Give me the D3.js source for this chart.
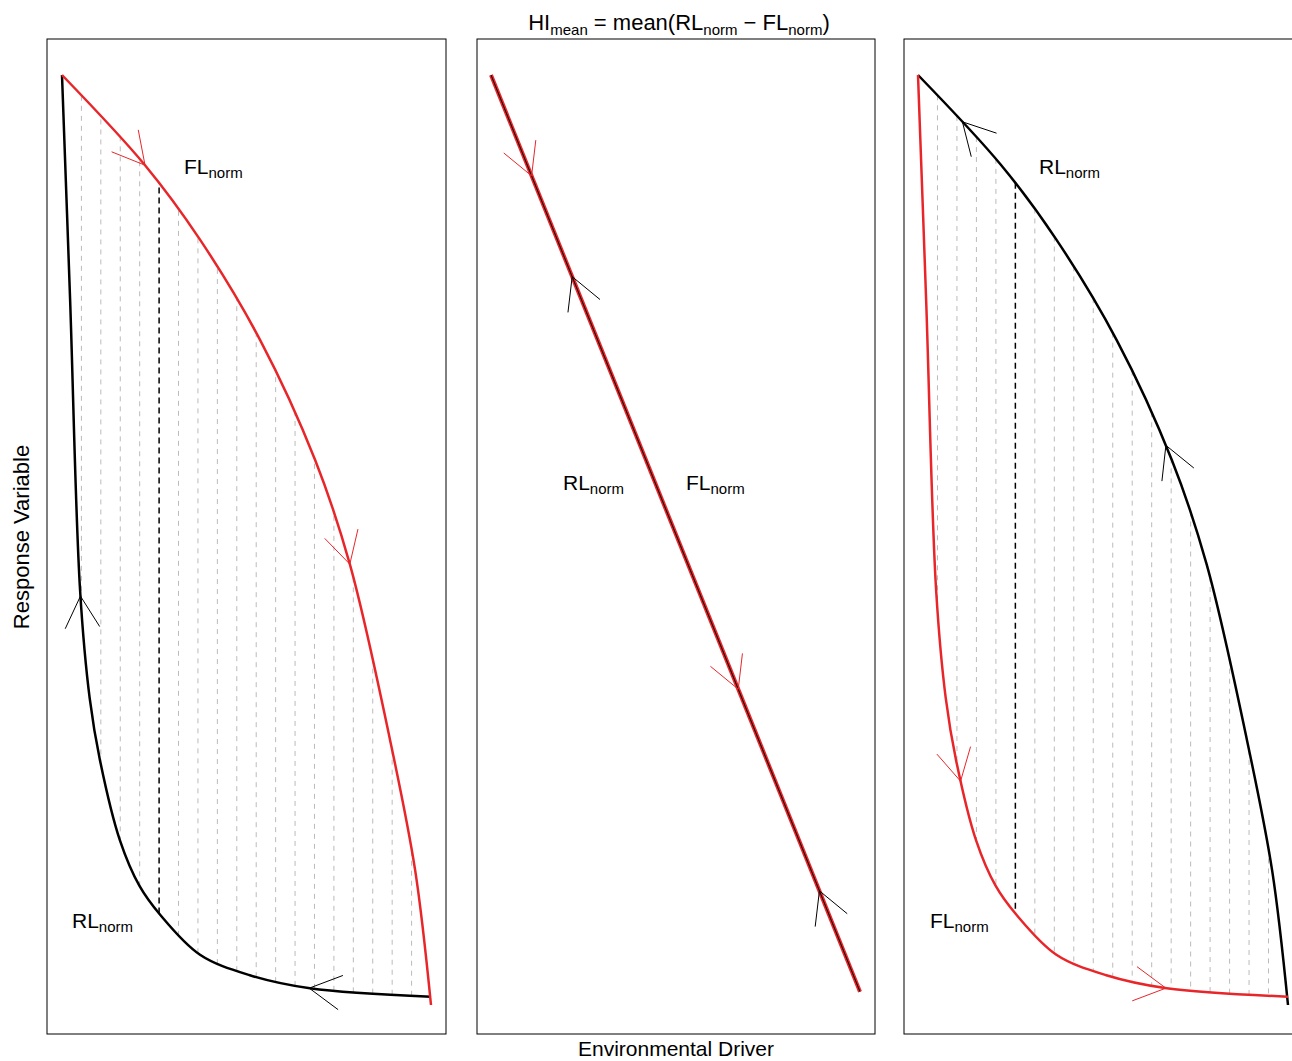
<!DOCTYPE html>
<html><head><meta charset="utf-8">
<script src="https://cdn.jsdelivr.net/npm/d3@7"></script>
<style>body{margin:0;background:#fff}text{font-family:"Liberation Sans",Arial,sans-serif}</style>
</head><body>
<script>
// normalized curves (x: driver 0..1, y: response 0..1)
var slowCurve = [[0,1],[0.022,0.758],[0.049,0.446],[0.075,0.33],[0.103,0.263],[0.157,0.177],[0.21,0.128],
  [0.266,0.097],[0.374,0.054],[0.509,0.032],[0.672,0.018],[1,0.009]];
var fastCurve = [[0,1],[0.225,0.903],[0.374,0.823],[0.537,0.715],[0.686,0.586],[0.78,0.474],
  [0.889,0.285],[0.957,0.145],[1,0]];
var lineCurve = [[0,1],[1,0.009]];
var hatchX = d3.range(1, 19).map(function(i){ return i / 19; });
var meanX = 5 / 19;

var panels = [
  {box:[47,39,399,995], x0:62, x1:431, y0:1005, y1:75,
   curves:[{d:slowCurve, c:'#000', arrows:[[0.05,-1],[0.67,-1]]},
           {d:fastCurve, c:'#e8262a', arrows:[[0.225,1],[0.78,1]]}],
   hatch:true, labels:[['FL','norm',184,174],['RL','norm',72,928]]},
  {box:[477,39,398,995], x0:491, x1:860, y0:1000, y1:75,
   curves:[{d:lineCurve, c:'#e8262a', w:4, arrows:[[0.11,1],[0.67,1]]},
           {d:lineCurve, c:'#000', w:1, arrows:[[0.22,-1],[0.89,-1]]}],
   hatch:false, labels:[['RL','norm',563,490],['FL','norm',686,490]]},
  {box:[904,39,399,995], x0:918, x1:1288, y0:1005, y1:75,
   curves:[{d:fastCurve, c:'#000', arrows:[[0.12,-1],[0.67,-1]]},
           {d:slowCurve, c:'#e8262a', arrows:[[0.115,1],[0.67,1]]}],
   hatch:true, labels:[['RL','norm',1039,174],['FL','norm',930,928]]}
];

var svg = d3.select('body').append('svg').attr('width',1292).attr('height',1061);

function lenAtX(path, px) {
  var L = path.getTotalLength(), lo = 0, hi = L;
  for (var k = 0; k < 40; k++) {
    var m = (lo + hi) / 2;
    if (path.getPointAtLength(m).x < px) lo = m; else hi = m;
  }
  return lo;
}
function yAtX(path, px) { return path.getPointAtLength(lenAtX(path, px)).y; }

panels.forEach(function(p) {
  var x = d3.scaleLinear().domain([0,1]).range([p.x0,p.x1]);
  var y = d3.scaleLinear().domain([0,1]).range([p.y0,p.y1]);
  var line = d3.line().x(function(d){return x(d[0]);}).y(function(d){return y(d[1]);})
    .curve(d3.curveCatmullRom.alpha(0.5));
  var g = svg.append('g');
  g.append('rect').attr('x',p.box[0]).attr('y',p.box[1]).attr('width',p.box[2]).attr('height',p.box[3])
    .attr('fill','none').attr('stroke','#000').attr('stroke-width',1);
  var hg = g.append('g');
  var paths = p.curves.map(function(c) {
    return g.append('path').datum(c.d).attr('d', line).attr('fill','none')
      .attr('stroke', c.c).attr('stroke-width', c.w || 2.5).node();
  });
  if (p.hatch) {
    hatchX.forEach(function(hx) {
      var px = x(hx);
      var ya = yAtX(paths[0], px), yb = yAtX(paths[1], px);
      var isMean = Math.abs(hx - meanX) < 1e-6;
      hg.append('line').attr('x1',px).attr('x2',px).attr('y1',ya).attr('y2',yb)
        .attr('stroke', isMean ? '#000' : '#bbb').attr('stroke-width', isMean ? 1.5 : 1)
        .attr('stroke-dasharray', isMean ? '6,4' : '5,5');
    });
  }
  p.curves.forEach(function(c, i) {
    var path = paths[i];
    c.arrows.forEach(function(a) {
      var l = lenAtX(path, x(a[0]));
      var pt = path.getPointAtLength(l);
      var q = path.getPointAtLength(Math.min(path.getTotalLength(), l + 2));
      var ang = Math.atan2(q.y - pt.y, q.x - pt.x) + (a[1] < 0 ? Math.PI : 0);
      [0.5, -0.5].forEach(function(s) {
        var b = ang + Math.PI + s;
        g.append('line').attr('x1',pt.x).attr('y1',pt.y)
          .attr('x2',pt.x + 36 * Math.cos(b)).attr('y2',pt.y + 36 * Math.sin(b))
          .attr('stroke', c.c).attr('stroke-width',1);
      });
    });
  });
  p.labels.forEach(function(lb) {
    var t = g.append('text').attr('x',lb[2]).attr('y',lb[3]).attr('font-size',21);
    t.append('tspan').text(lb[0]);
    t.append('tspan').attr('font-size',15).attr('dy',4).text(lb[1]);
  });
});

var title = svg.append('text').attr('x',679).attr('y',30).attr('text-anchor','middle').attr('font-size',22);
[['HI',0],['mean',1],[' = mean(RL',0],['norm',1],[' \u2212 FL',0],['norm',1],[')',0]].forEach(function(s, i, arr) {
  var prev = i > 0 ? arr[i-1][1] : 0;
  title.append('tspan').attr('font-size', s[1] ? 15 : 22)
    .attr('dy', s[1] === prev ? 0 : (s[1] ? 5 : -5)).text(s[0]);
});
svg.append('text').attr('x',676).attr('y',1056).attr('text-anchor','middle').attr('font-size',21)
  .text('Environmental Driver');
svg.append('text').attr('transform','translate(29,537) rotate(-90)').attr('text-anchor','middle')
  .attr('font-size',22).text('Response Variable');
</script>
</body></html>
